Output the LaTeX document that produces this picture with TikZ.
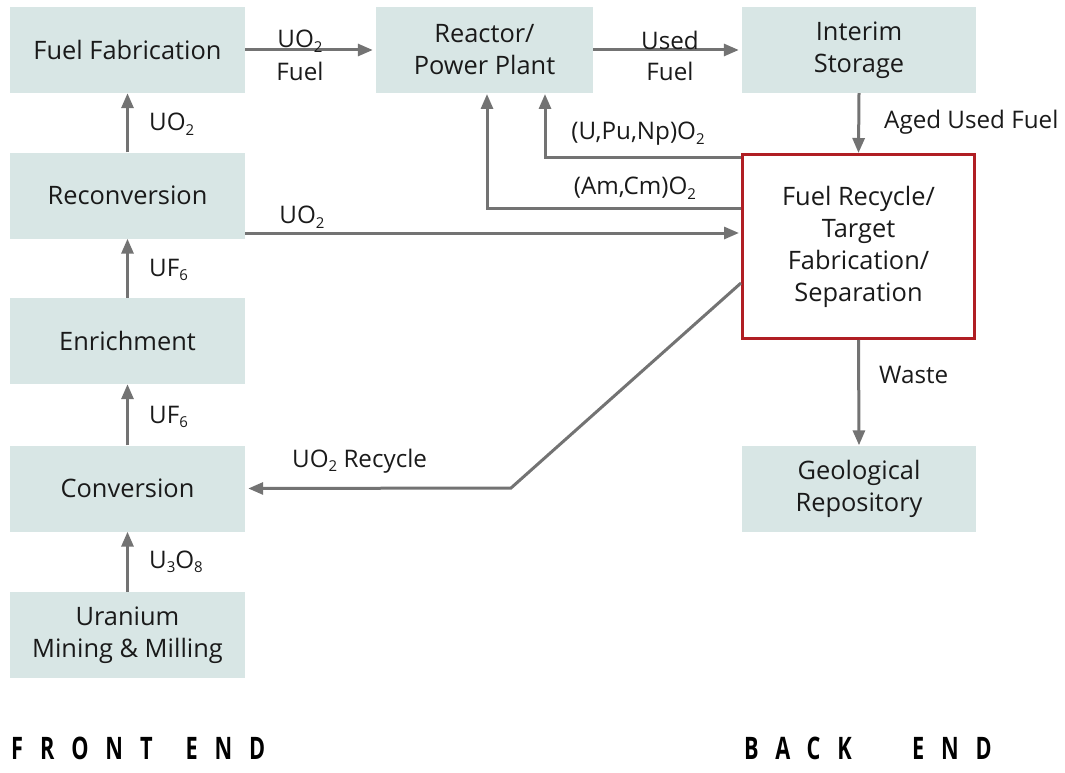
\documentclass[tikz,border=0pt]{standalone}
\usepackage{fontspec}
\setmainfont{Open Sans}
\newfontfamily\footfont[LetterSpace=78]{Open Sans}
\usetikzlibrary{arrows.meta}
\definecolor{boxfill}{HTML}{D8E6E5}
\definecolor{arrowgray}{HTML}{737373}
\definecolor{recred}{HTML}{B01E23}
\definecolor{txt}{HTML}{1A1A1A}
\newcommand\subs[1]{\raisebox{-0.35ex}{\fontsize{15}{15}\selectfont #1}}
\begin{document}
\begin{tikzpicture}[x=1pt,y=-1pt,
  stagebox/.style={fill=boxfill, inner sep=0pt, minimum width=235pt, minimum height=86pt,
    align=center, text=txt, font=\fontsize{25.4}{32}\selectfont},
  flow/.style={draw=arrowgray, line width=3pt, -{Triangle[length=15pt,width=12pt]}},
  lbl/.style={inner sep=0pt, text=txt, font=\fontsize{24.2}{30}\selectfont, align=center},
  foot/.style={inner sep=0pt, anchor=west, text=black, font=\footfont\bfseries\fontsize{31}{34}\selectfont}]
\useasboundingbox (0,0) rectangle (1065,773);
% boxes
\node[stagebox] (fab) at (127.5,50) {Fuel Fabrication};
\node[stagebox] (recon) at (127.5,195.5) {Reconversion};
\node[stagebox] (enrich) at (127.5,341) {Enrichment};
\node[stagebox] (conv) at (127.5,488.5) {Conversion};
\node[stagebox] (mine) at (127.5,635) {Uranium\\Mining \& Milling};
\node[stagebox, minimum width=217pt] (reactor) at (484.5,50) {Reactor/\\Power Plant};
\node[stagebox, minimum width=234pt] (interim) at (859,50) {Interim\\Storage};
\node[stagebox, fill=white, draw=recred, line width=3pt, minimum width=232pt, minimum height=184pt] (recycle) at (858.5,246.5) {Fuel Recycle/\\Target\\Fabrication/\\Separation};
\node[stagebox, minimum width=234pt] (geo) at (859,488.5) {Geological\\Repository};
% coordinates
\coordinate (c1) at (545,157);
\coordinate (c1t) at (545,93);
\coordinate (c2) at (487,208);
\coordinate (c2t) at (487,93);
\coordinate (d0) at (741,283);
\coordinate (d1) at (511,488);
\coordinate (r0) at (245,233);
\coordinate (r1) at (741,233);
% connectors
\draw[flow, shorten >=3pt] (fab.east) -- (reactor.west);
\draw[flow, shorten >=3pt] (reactor.east) -- (interim.west);
\draw[flow] (interim.south) -- (recycle.north);
\draw[flow, shorten >=1pt] (recycle.west |- c1) -- (c1) -- (c1t);
\draw[flow, shorten >=1pt] (recycle.west |- c2) -- (c2) -- (c2t);
\draw[flow, shorten >=2pt] (recon.east |- r0) -- (recycle.west |- r1);
\draw[flow, shorten >=3pt] (recycle.west |- d0) -- (d1) -- (conv.east);
\draw[flow] (recycle.south) -- (geo.north);
\draw[flow] (recon.north) -- (fab.south);
\draw[flow] (enrich.north) -- (recon.south);
\draw[flow] (conv.north) -- (enrich.south);
\draw[flow] (mine.north) -- (conv.south);
% labels
\node[lbl] (l1) at (300,41) {UO\subs{2}};
\node[lbl] (l2) at (300,71) {Fuel};
\node[lbl] (l3) at (670,40) {Used};
\node[lbl] (l4) at (670,71) {Fuel};
\node[lbl, anchor=west] (l5) at (884,122) {Aged Used Fuel};
\node[lbl] (l6) at (638,134) {(U,Pu,Np)O\subs{2}};
\node[lbl] (l7) at (635,188) {(Am,Cm)O\subs{2}};
\node[lbl] (l8) at (302,217) {UO\subs{2}};
\node[lbl, anchor=west] (l9) at (292,461) {UO\subs{2} Recycle};
\node[lbl, anchor=west] (l10) at (879,375) {Waste};
\node[lbl, anchor=west] (l11) at (149,124) {UO\subs{2}};
\node[lbl, anchor=west] (l12) at (149,270) {UF\subs{6}};
\node[lbl, anchor=west] (l13) at (149,417) {UF\subs{6}};
\node[lbl, anchor=west] (l14) at (149,562) {U\subs{3}O\subs{8}};
% footers
\node[foot] (front) at (11,748) {\scalebox{0.7}[1]{FRONT\hspace{47pt}END}};
\node[foot] (back) at (744,748) {\scalebox{0.7}[1]{BACK\hspace{86pt}END}};
\end{tikzpicture}
\end{document}
